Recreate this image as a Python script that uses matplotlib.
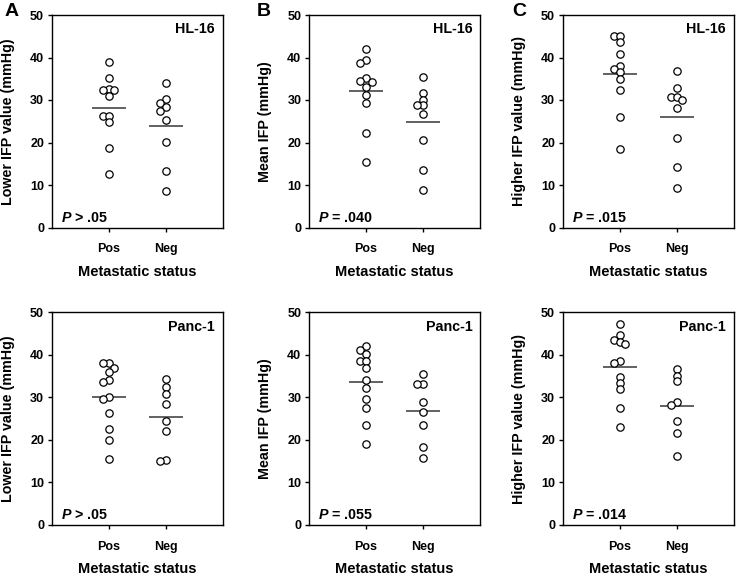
import numpy as np
import matplotlib
matplotlib.use("Agg")
import matplotlib.pyplot as plt

plt.rcParams['font.family'] = 'Liberation Sans'
plt.rcParams['font.weight'] = 'bold'
plt.rcParams['axes.labelweight'] = 'bold'
plt.rcParams['mathtext.fontset'] = 'custom'
plt.rcParams['mathtext.it'] = 'Liberation Sans:italic:bold'
plt.rcParams['mathtext.rm'] = 'Liberation Sans:bold'

groups = ["Pos", "Neg"]
panel_letters = ["A", "B", "C"]
ylabels = ["Lower IFP value (mmHg)", "Mean IFP (mmHg)", "Higher IFP value (mmHg)"]
cell_lines = ["HL-16", "Panc-1"]
yticks = [0, 10, 20, 30, 40, 50]

# HL-16 (top row)
hl16_lower_pos = [38.9, 35.2, 32.6, 32.3, 32.3, 31.0, 26.2, 26.2, 24.9, 18.6, 12.5]
hl16_lower_neg = [34.1, 30.2, 29.2, 28.4, 27.4, 25.3, 20.1, 13.2, 8.5]
hl16_mean_pos = [41.9, 39.4, 38.8, 35.1, 34.5, 34.3, 33.0, 31.1, 29.4, 22.2, 15.5]
hl16_mean_neg = [35.5, 31.6, 30.1, 28.8, 28.8, 26.7, 20.6, 13.6, 8.9]
hl16_higher_pos = [45.0, 45.0, 43.7, 40.8, 38.0, 37.2, 36.5, 34.9, 32.4, 25.9, 18.5]
hl16_higher_neg = [36.9, 32.9, 30.6, 30.6, 30.0, 28.1, 21.0, 14.2, 9.2]
hl16_group_means = [[28.2, 24.0], [32.2, 24.8], [36.1, 25.9]]
hl16_p = ["$P$ > .05", "$P$ = .040", "$P$ = .015"]

# Panc-1 (bottom row)
panc1_lower_pos = [38.0, 38.0, 37.0, 36.0, 34.0, 33.6, 30.1, 29.6, 26.3, 22.6, 19.9, 15.4]
panc1_lower_neg = [34.2, 32.5, 30.8, 28.5, 24.5, 22.0, 15.3, 15.0]
panc1_mean_pos = [42.1, 41.2, 40.3, 38.6, 38.6, 37.0, 34.0, 32.2, 29.7, 27.4, 23.6, 19.1]
panc1_mean_neg = [35.4, 33.2, 33.1, 28.9, 26.6, 23.4, 18.3, 15.7]
panc1_higher_pos = [47.2, 44.6, 43.6, 43.0, 42.5, 38.5, 38.1, 34.7, 33.3, 32.0, 27.4, 22.9]
panc1_higher_neg = [36.6, 35.1, 33.8, 29.0, 28.3, 24.5, 21.7, 16.1]
panc1_group_means = [[30.1, 25.3], [33.6, 26.7], [37.1, 28.0]]
panc1_p = ["$P$ > .05", "$P$ = .055", "$P$ = .014"]

rows = [
    (cell_lines[0], [(hl16_lower_pos, hl16_lower_neg), (hl16_mean_pos, hl16_mean_neg),
                     (hl16_higher_pos, hl16_higher_neg)], hl16_group_means, hl16_p),
    (cell_lines[1], [(panc1_lower_pos, panc1_lower_neg), (panc1_mean_pos, panc1_mean_neg),
                     (panc1_higher_pos, panc1_higher_neg)], panc1_group_means, panc1_p),
]


def swarm(values, center, xpx, ypx, step=0.1, min_px=5.5):
    # simple beeswarm: spread points sideways until they don't overlap
    order = np.argsort(values)[::-1]
    placed = []
    xs = np.zeros(len(values))
    for i in order:
        y = values[i]
        for k in [0, -1, 1, -2, 2, -3, 3]:
            x = center + k * step
            ok = all(np.hypot((x - px) * xpx, (y - py) * ypx) >= min_px for px, py in placed)
            if ok:
                break
        placed.append((x, y))
        xs[i] = x
    return xs


fig = plt.figure(figsize=(7.36, 5.76), dpi=100)
W, H = 736, 576
col_left = [51.7, 309, 562.7]
ax_w = 171
row_top = [15, 312.3]
ax_h = 212.5

for r, (name, panels, means, ptexts) in enumerate(rows):
    for c in range(3):
        ax = fig.add_axes([col_left[c] / W, 1 - (row_top[r] + ax_h) / H, ax_w / W, ax_h / H])
        ax.set_xlim(0, 3)
        ax.set_ylim(0, 50)
        xpx = ax_w / 3
        ypx = ax_h / 50
        for g, vals in enumerate(panels[c]):
            vals = np.array(vals)
            xs = swarm(vals, g + 1, xpx, ypx)
            ax.plot(xs, vals, 'o', ms=5.3, mfc='white', mec='black', mew=0.9, zorder=3)
            ax.hlines(means[c][g], g + 1 - 0.3, g + 1 + 0.3, color='#555555', lw=1.3, zorder=2)
        ax.set_xticks([1, 2])
        ax.set_xticklabels(groups)
        ax.set_yticks(yticks)
        ax.tick_params(axis='both', direction='out', length=3, width=1, labelsize=9)
        ax.tick_params(axis='x', pad=8.5)
        ax.tick_params(axis='y', pad=2.5)
        for s in ax.spines.values():
            s.set_linewidth(1.0)
        ax.set_xlabel("Metastatic status", fontsize=10.5, labelpad=7)
        ax.set_ylabel(ylabels[c], fontsize=10.3, labelpad=11)
        ax.text(0.955, 0.965, name, transform=ax.transAxes, ha='right', va='top', fontsize=10.3)
        ax.text(0.055, 0.028, ptexts[c], transform=ax.transAxes, ha='left', va='baseline', fontsize=10.3)

for c, letter in enumerate(panel_letters):
    fig.text([5, 257, 512][c] / W, 1 - 3 / H, letter, ha='left', va='top', fontsize=14)

fig.savefig("out.png", dpi=100)
